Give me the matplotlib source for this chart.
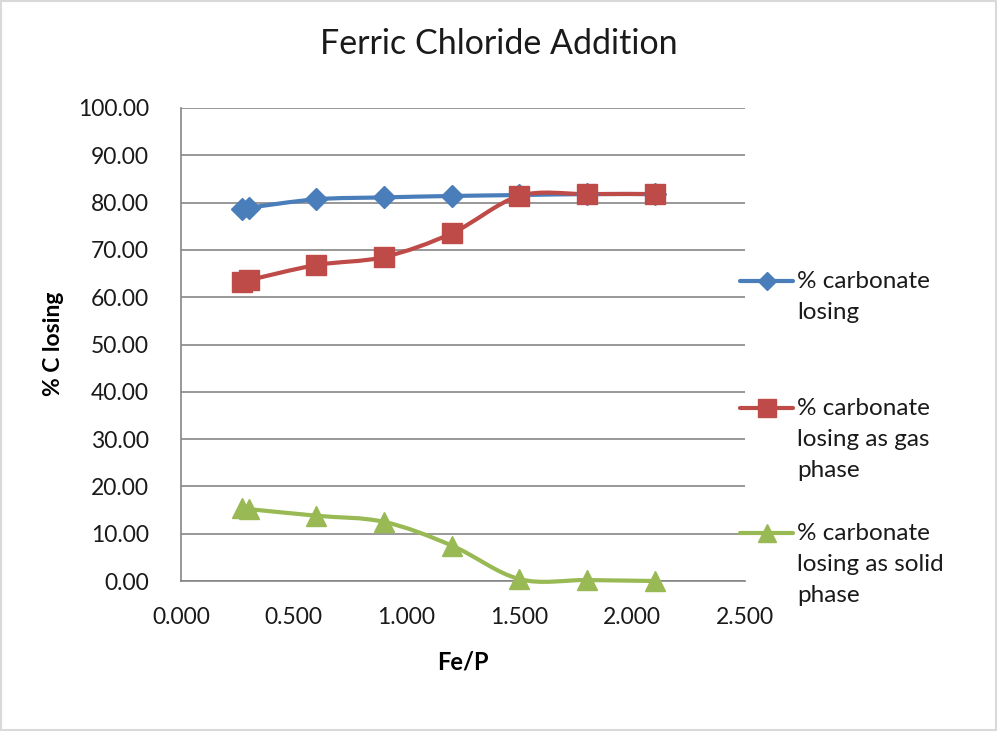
import numpy as np
import matplotlib.pyplot as plt
from matplotlib.path import Path
from matplotlib.patches import PathPatch, Rectangle
from matplotlib.lines import Line2D

plt.rcParams['font.family'] = ['Lato', 'DejaVu Sans']

# Fe/P molar ratio and % carbon lost
fe_p = [0.27, 0.30, 0.60, 0.90, 1.20, 1.50, 1.80, 2.10]
c_total = [78.6, 78.9, 80.7, 81.1, 81.4, 81.6, 81.8, 81.8]
c_gas = [63.3, 63.6, 66.8, 68.5, 73.5, 81.4, 81.8, 81.8]
c_solid = [15.4, 15.2, 13.8, 12.5, 7.5, 0.4, 0.2, 0.0]

labels = ['% carbonate\nlosing', '% carbonate\nlosing as gas\nphase',
          '% carbonate\nlosing as solid\nphase']
colors = ['#4a7ebb', '#be4b48', '#98b954']
markers = ['D', 's', '^']
msizes = [11, 14, 14.5]
series = [c_total, c_gas, c_solid]


def smooth_path(x, y, t=1 / 6):
    # cubic bezier through every point, Excel-style smoothed line
    x = np.asarray(x, float)
    y = np.asarray(y, float)
    n = len(x)
    verts = [(x[0], y[0])]
    codes = [Path.MOVETO]
    for i in range(n - 1):
        p0 = np.array([x[max(i - 1, 0)], y[max(i - 1, 0)]])
        p1 = np.array([x[i], y[i]])
        p2 = np.array([x[i + 1], y[i + 1]])
        p3 = np.array([x[min(i + 2, n - 1)], y[min(i + 2, n - 1)]])
        c1 = p1 + (p2 - p0) * t
        c2 = p2 - (p3 - p1) * t
        verts += [tuple(c1), tuple(c2), tuple(p2)]
        codes += [Path.CURVE4] * 3
    return Path(verts, codes)


fig = plt.figure(figsize=(9.98, 7.31), dpi=100)
fig.patches.append(Rectangle((0.001, 0.002), 0.997, 0.996, transform=fig.transFigure,
                             fill=False, edgecolor='#d9d9d9', lw=1.5))
ax = fig.add_axes([181 / 998, 1 - 581 / 731, (745 - 181) / 998, (581 - 108) / 731])

for ys, c, m, ms in zip(series, colors, markers, msizes):
    ax.add_patch(PathPatch(smooth_path(fe_p, ys), fill=False, edgecolor=c, lw=3,
                           capstyle='round', zorder=3, clip_on=False))
    ax.plot(fe_p, ys, linestyle='none', marker=m, color=c, markersize=ms, zorder=4,
            clip_on=False)

ax.set_xlim(0, 2.5)
ax.set_ylim(0, 100)
ax.set_xticks(np.arange(0, 2.51, 0.5))
ax.set_yticks(np.arange(0, 101, 10))
ax.set_xticklabels([f'{v:.3f}' for v in np.arange(0, 2.51, 0.5)])
ax.set_yticklabels([f'{v:.2f}' for v in np.arange(0, 101, 10)])
ax.tick_params(length=0, labelsize=16.5, labelcolor='#1a1a1a')
ax.tick_params(axis='y', pad=23)
ax.tick_params(axis='x', pad=19)
ax.grid(axis='y', color='#868686', lw=1.2)
ax.set_axisbelow(True)
for s in ['top', 'right']:
    ax.spines[s].set_visible(False)
for s in ['left', 'bottom']:
    ax.spines[s].set_color('#868686')
    ax.spines[s].set_linewidth(1.2)
    ax.spines[s].set_zorder(1)

ax.set_xlabel('Fe/P', fontsize=17, fontweight='bold')
ax.set_ylabel('% C losing', fontsize=16.5, fontweight='bold')
ax.xaxis.set_label_coords((463 - 181) / 564, -(650 - 581) / 473)
ax.yaxis.set_label_coords(-(181 - 64) / 564, (581 - 344) / 473)
fig.text(0.5, 1 - 44 / 731, 'Ferric Chloride Addition', ha='center', va='center',
         fontsize=24.5, color='#1a1a1a')

# legend, handle level with the first text line
for lab, c, m, ms, ty in zip(labels, colors, markers, msizes, [281, 408, 533]):
    yf = 1 - ty / 731
    fig.add_artist(Line2D([740 / 998, 793 / 998], [yf, yf], color=c, lw=3,
                          solid_capstyle='round'))
    fig.add_artist(Line2D([766.5 / 998], [yf], color=c, marker=m, markersize=ms - 1.5))
    fig.text(797 / 998, 1 - (ty - 10) / 731, lab, ha='left', va='top', fontsize=17.5,
             linespacing=1.6, color='#1a1a1a')

fig.savefig('out.png', dpi=100)
